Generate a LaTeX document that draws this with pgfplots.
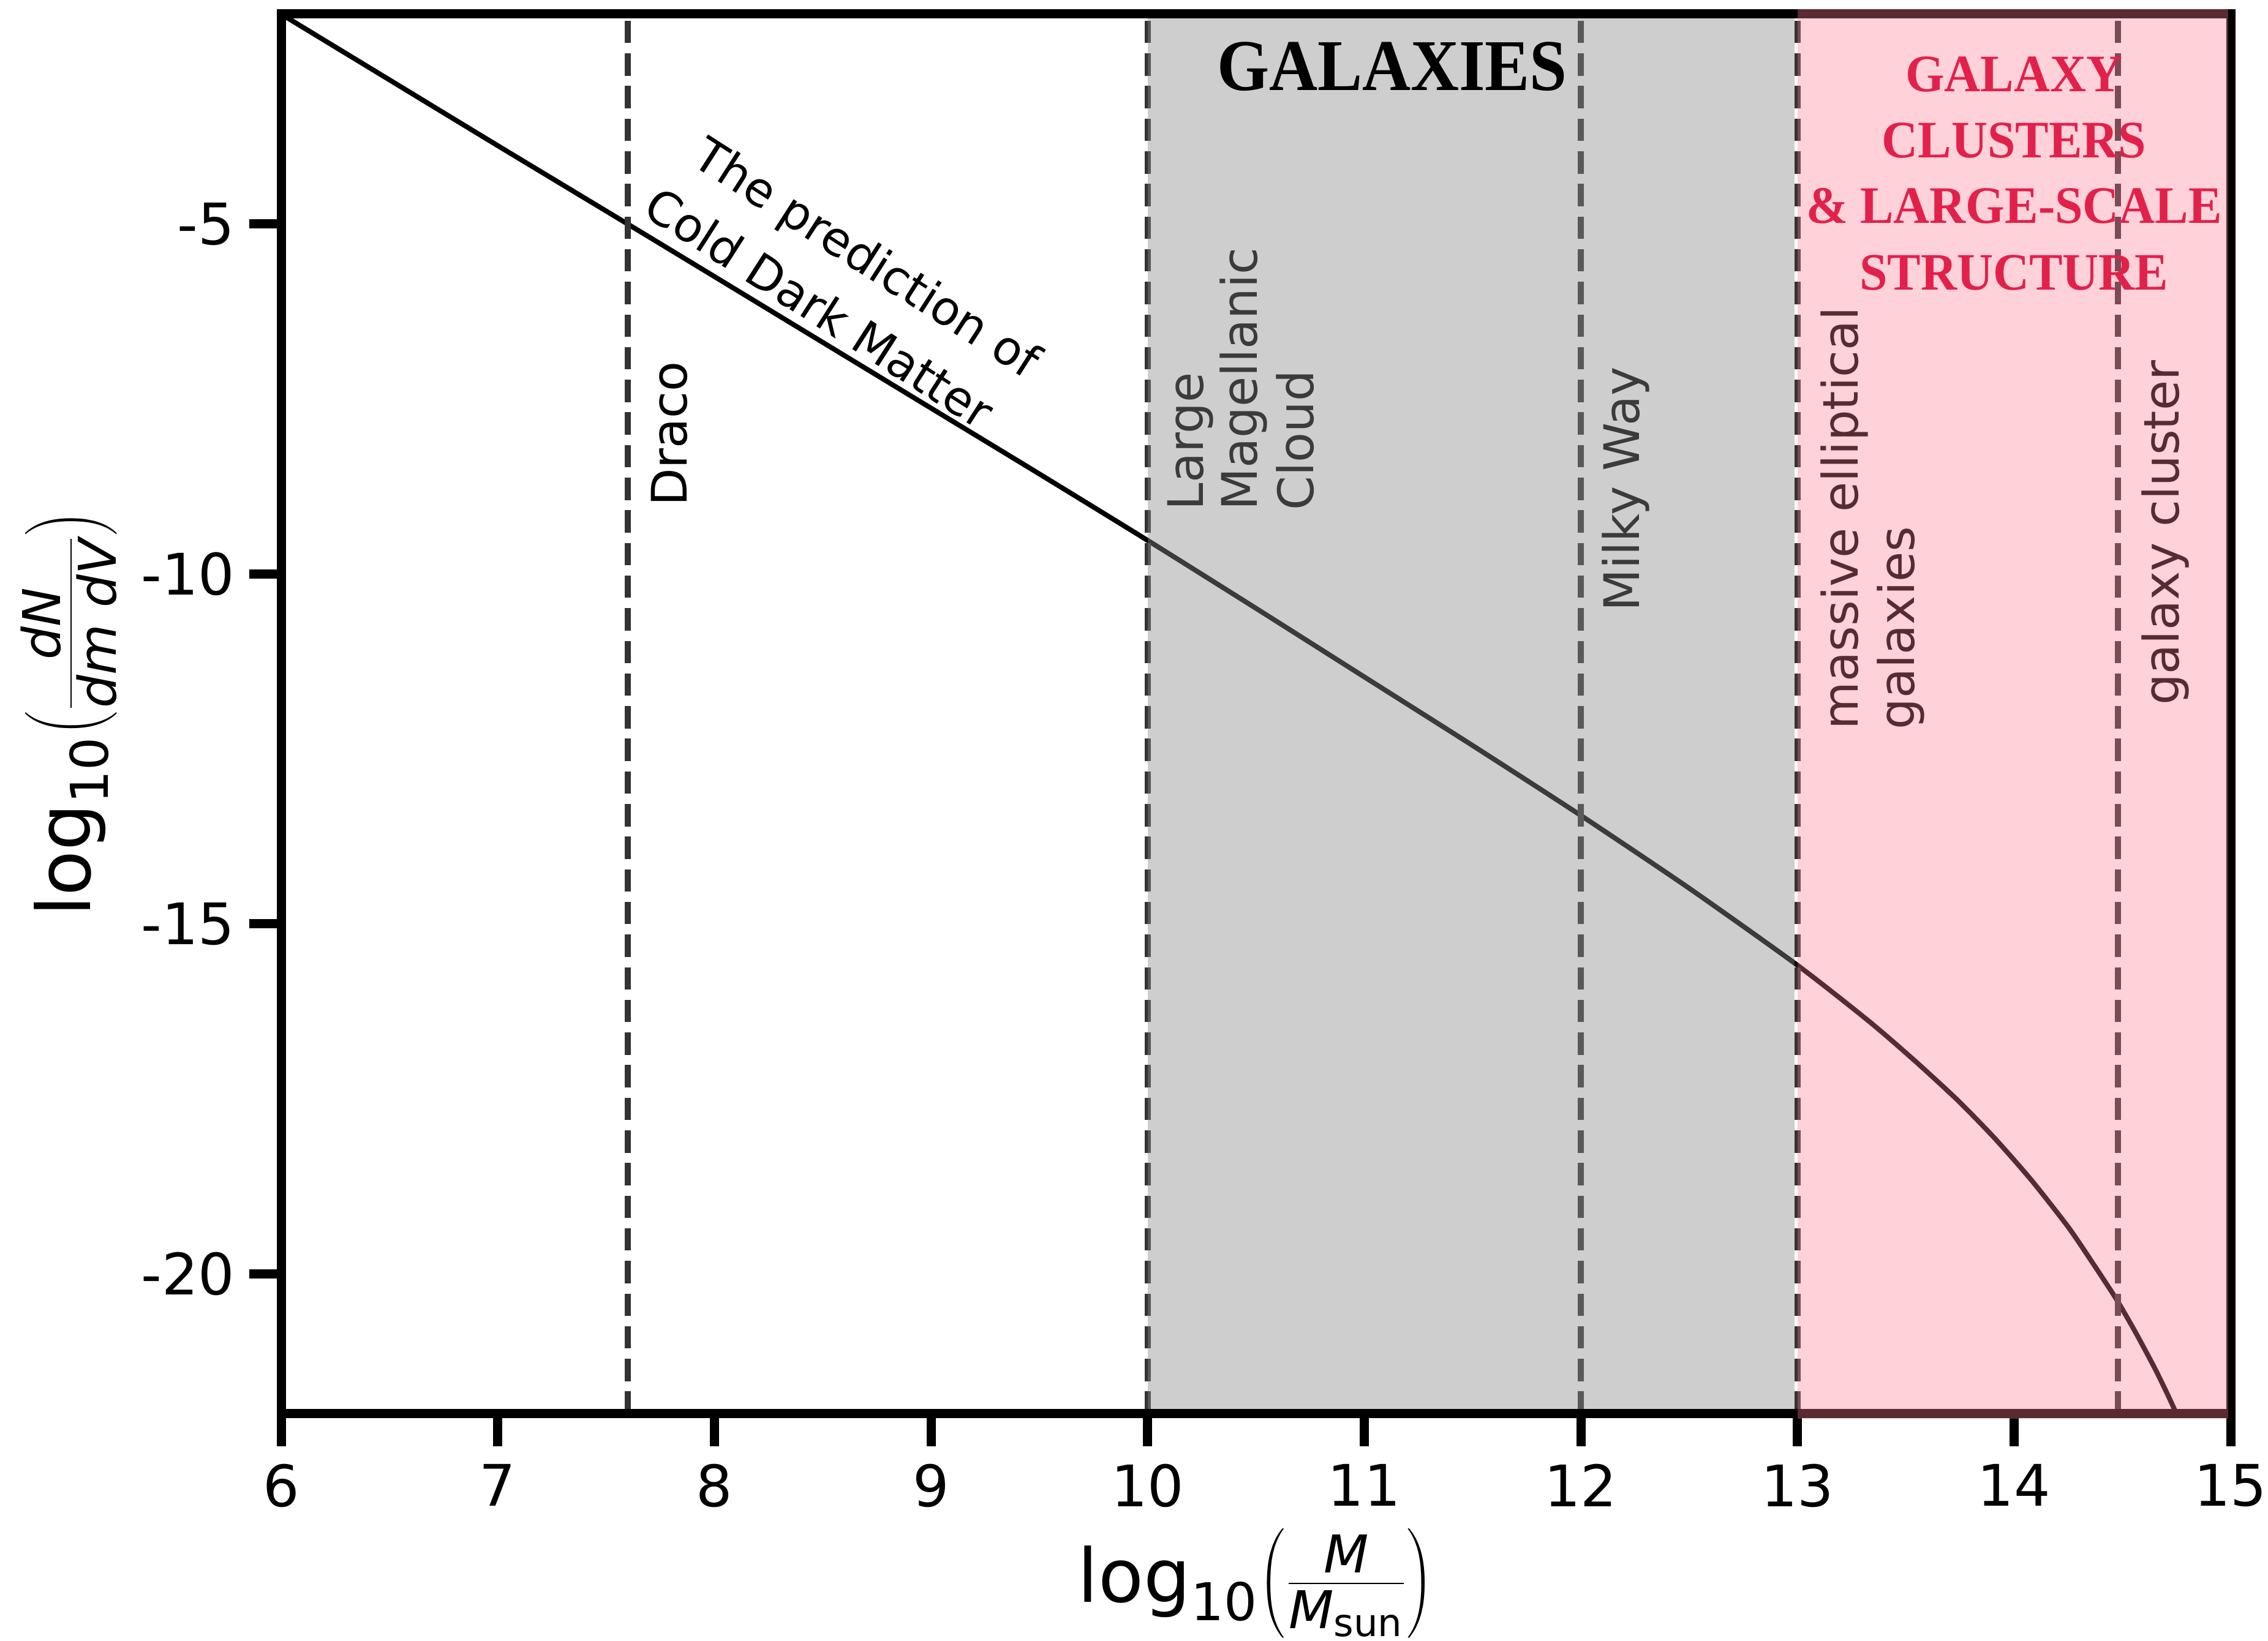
\documentclass[border=0pt]{standalone}
\usepackage{fontspec}
\setmainfont{DejaVu Sans}
\newfontfamily\titlefont{Liberation Serif}
\usepackage{pgfplots}
\pgfplotsset{compat=1.18}
\definecolor{dashc}{HTML}{333333}
\definecolor{grayov}{RGB}{140,140,140}
\definecolor{pinkov}{RGB}{255,122,146}
\definecolor{crim}{HTML}{E2214A}
\newcommand{\ticksize}{\fontsize{18.7bp}{22bp}\selectfont}
\newcommand{\annsize}{\fontsize{15.4bp}{18bp}\selectfont}
\newcommand{\vannsize}{\fontsize{16bp}{19bp}\selectfont}
\newcommand{\labsize}{\fontsize{24.2bp}{29bp}\selectfont}
\newcommand{\subsz}[1]{\hbox{\fontsize{17bp}{17bp}\selectfont #1}}
\newcommand{\subsun}{\hbox{\upshape\fontsize{12.5bp}{12.5bp}\selectfont sun}}
\begin{document}
\begin{tikzpicture}
\begin{axis}[
  set layers, axis on top,
  at={(91.8bp,74.2bp)}, anchor=south west,
  scale only axis, width=636.6bp, height=457.2bp,
  xmin=6, xmax=15, ymin=-22, ymax=-2,
  clip=false,
  axis line style={line width=3bp, black},
  tick style={line width=3bp, black},
  major tick length=10.5bp,
  tick align=outside, tick pos=left,
  xtick={6,7,8,9,10,11,12,13,14,15},
  xticklabels={6,7,8,9,10,11,12,13,14,15},
  ytick={-20,-15,-10,-5},
  yticklabels={-20,-15,-10,-5},
  tick label style={font=\ticksize},
  xticklabel style={anchor=north, inner sep=0pt, yshift=-5.7bp},
  yticklabel style={anchor=east, inner sep=0pt, xshift=-4.5bp},
  xlabel={$\hbox{log}_{\subsz{10}}{\left(\frac{\subsz{\itshape M}}{\subsz{\itshape M$_{\subsun}$}}\right)}$},
  ylabel={$\hbox{log}_{\subsz{10}}{\left(\frac{\subsz{\itshape dN}}{\subsz{\itshape dm dV}}\right)}$},
  xlabel style={at={(axis description cs:0.5,-0.1347)}, anchor=base, inner sep=0pt, font=\labsize},
  ylabel style={at={(axis description cs:-0.0980,0.5)}, anchor=base, inner sep=0pt, font=\labsize},
]
% CDM mass function curve
\addplot[black, line width=1.6bp, smooth, tension=0.4, on layer=pre main] coordinates {
 (6.00,-2.00) (6.50,-2.94) (7.00,-3.88) (7.60,-5.00) (8.00,-5.75) (8.50,-6.69)
 (9.00,-7.63) (9.50,-8.57) (10.00,-9.52) (10.50,-10.49) (11.00,-11.47) (11.50,-12.45)
 (12.00,-13.45) (12.50,-14.49) (13.00,-15.59) (13.33,-16.39) (13.54,-16.95)
 (13.74,-17.52) (13.91,-18.06) (14.08,-18.66) (14.25,-19.33) (14.36,-19.83)
 (14.47,-20.35) (14.56,-20.83) (14.65,-21.35) (14.71,-21.73) (14.75,-22.00)
};
% vertical dashed markers
\addplot[dashc, line width=2bp, dash pattern=on 7.3bp off 3.36bp, on layer=pre main] coordinates {(7.6,-22) (7.6,-2)};
\addplot[dashc, line width=2bp, dash pattern=on 7.3bp off 3.36bp, on layer=pre main] coordinates {(10,-22) (10,-2)};
\addplot[dashc, line width=2bp, dash pattern=on 7.3bp off 3.36bp, on layer=pre main] coordinates {(12,-22) (12,-2)};
\addplot[dashc, line width=2bp, dash pattern=on 7.3bp off 3.36bp, on layer=pre main] coordinates {(13,-22) (13,-2)};
\addplot[dashc, line width=2bp, dash pattern=on 7.3bp off 3.36bp, on layer=pre main] coordinates {(14.48,-22) (14.48,-2)};
% annotations
\begin{pgfonlayer}{pre main}
\node[rotate=90, anchor=base west, inner sep=0pt, font=\vannsize] at (axis cs:7.873,-9.04) {Draco};
\node[rotate=90, anchor=base west, inner sep=0pt, font=\vannsize] at (axis cs:10.258,-9.098) {Large};
\node[rotate=90, anchor=base west, inner sep=0pt, font=\vannsize] at (axis cs:10.507,-9.098) {Magellanic};
\node[rotate=90, anchor=base west, inner sep=0pt, font=\vannsize] at (axis cs:10.767,-9.098) {Cloud};
\node[rotate=90, anchor=base west, inner sep=0pt, font=\vannsize] at (axis cs:12.27,-10.547) {Milky Way};
\node[rotate=90, anchor=base west, inner sep=0pt, font=\vannsize] at (axis cs:13.28,-12.23) {massive elliptical};
\node[rotate=90, anchor=base west, inner sep=0pt, font=\vannsize] at (axis cs:13.54,-12.23) {galaxies};
\node[rotate=90, anchor=base west, inner sep=0pt, font=\vannsize] at (axis cs:14.76,-11.886) {galaxy cluster};
\node[rotate=-32.7, anchor=base west, inner sep=0pt, font=\annsize] at (axis cs:7.885,-4.134) {The prediction of};
\node[rotate=-32.7, anchor=base west, inner sep=0pt, font=\annsize] at (axis cs:7.660,-4.851) {Cold Dark Matter};
\end{pgfonlayer}
% shaded bands
\addplot[draw=none, fill=grayov, fill opacity=0.4275, on layer=main] coordinates {(10,-22) (12.988,-22) (12.988,-2) (10,-2)};
\addplot[draw=none, fill=pinkov, fill opacity=0.35, on layer=axis foreground] coordinates {(13,-22.066) (14.988,-22.066) (14.988,-1.934) (13,-1.934)};
\begin{pgfonlayer}{axis foreground}
\node[anchor=base, inner sep=0pt, xscale=0.92, font=\titlefont\bfseries\fontsize{23.8bp}{28bp}\selectfont] at (axis cs:11.129,-3.093) {GALAXIES};
\node[anchor=base, inner sep=0pt, xscale=0.95, text=crim, font=\titlefont\bfseries\fontsize{17.2bp}{21bp}\selectfont] at (axis cs:14.0,-3.104) {GALAXY};
\node[anchor=base, inner sep=0pt, xscale=0.95, text=crim, font=\titlefont\bfseries\fontsize{17.2bp}{21bp}\selectfont] at (axis cs:14.0,-4.049) {CLUSTERS};
\node[anchor=base, inner sep=0pt, xscale=0.95, text=crim, font=\titlefont\bfseries\fontsize{17.2bp}{21bp}\selectfont] at (axis cs:14.0,-4.991) {\& LARGE-SCALE};
\node[anchor=base, inner sep=0pt, xscale=0.95, text=crim, font=\titlefont\bfseries\fontsize{17.2bp}{21bp}\selectfont] at (axis cs:14.0,-5.939) {STRUCTURE};
\end{pgfonlayer}
\end{axis}
\pgfresetboundingbox
\useasboundingbox (0,0) rectangle (740.6bp,536bp);
\end{tikzpicture}
\end{document}
